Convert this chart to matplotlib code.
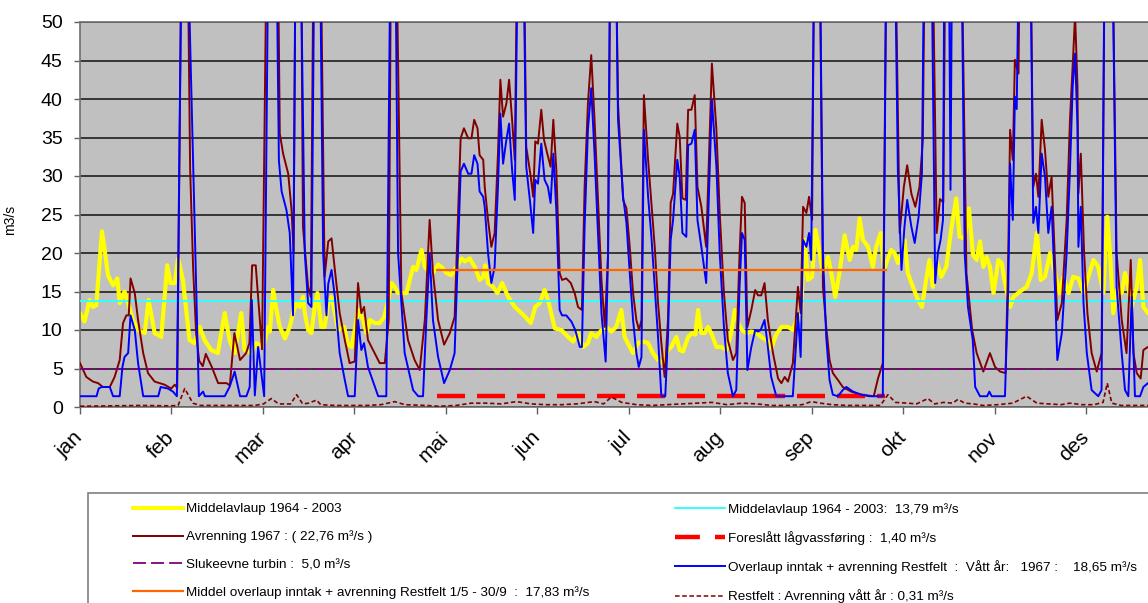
import numpy as np
import matplotlib
matplotlib.use("Agg")
import matplotlib.pyplot as plt
from matplotlib.lines import Line2D
from matplotlib.patches import Rectangle

plt.rcParams['font.family'] = ['Liberation Sans', 'DejaVu Sans']

# ---------------- data ----------------
months = ['jan', 'feb', 'mar', 'apr', 'mai', 'jun', 'jul', 'aug', 'sep', 'okt', 'nov', 'des']

# Middelavlaup 1964 - 2003 (daily mean flow)
mean_days = [0, 1.5, 3.2, 4.3, 5.4, 7.3, 8.2, 9.3, 11, 12.4, 13.2, 14.8, 16, 17.6, 19.3, 21.5, 22.8, 24.8, 27, 29,
             30.1, 31.5, 32.6, 34.2, 36.4, 38, 39.8, 41.4, 43.6, 45.8, 48.1, 49.7, 51.4, 53.6, 54.7, 56.9, 58.6,
             60.9, 62.5, 63.1, 64.2, 65.3, 66.4, 68.1, 69.7, 70.8, 71.9, 73, 74.1, 74.7, 75.8, 76.9, 78, 78.9, 80.2,
             81.3, 82.5, 83.6, 84.7, 85.8, 87.8, 88.9, 90.2, 91.3, 92.4, 94.1, 95.2, 96.3, 98, 99.6, 101.1, 102.2,
             103.5, 104.6, 105.7, 106.8, 108.5, 109.6, 110.7, 111.8, 113.5, 114.6, 116.2, 117.3,
             119, 120.1, 121.8, 123.4, 125.1, 126.8, 127.9, 129.5, 131.2, 132.8, 134, 134.7, 135.6, 137.3, 138.7,
             140.3, 142.3, 144.5, 146.7, 148, 149.8, 151.3, 152.8, 154.4, 155.8, 157.8, 160, 162.2, 163.9, 165.5,
             167.2, 168.8, 169.9, 171.6, 173.3, 174.9, 176.6, 178.2,
             179.9, 181, 182.7, 183.8, 185.4, 187.1, 188.8, 190.4, 192.1, 193.7, 195.4, 196.5, 198.2, 199.3, 200.4,
             202.1, 203.4, 204.5, 205.4, 206.5, 207.6, 208.7, 210, 211.5, 213.1, 214.8, 216.4, 217.6, 218.7, 220,
             221.4, 223.1, 224.8, 226.4, 228.1, 229.7, 231.4, 233.1, 235.3, 236.9, 238.6,
             239.5, 240.8, 241.9, 243.3, 244.4, 245.5, 246.9, 248.6, 249.7, 251, 252.4, 254.1, 255.8, 256.9, 258,
             259.1, 260.2, 261.9, 263.5, 264.6, 266.1, 267.2, 268.3, 269.6, 270.7, 271.8, 273.2, 274, 275.1, 276.8,
             278.5, 279.8, 281.2, 282.3, 283.4, 284.6, 286.2, 287.9, 289.5, 291.2, 292.3, 294, 295.4, 296.8, 298,
             299.1, 300.2, 301.3, 302.4, 303.6, 305.2, 306.3, 307.4, 309.1, 310.2, 312.4, 314.6, 316.3, 318, 319.3,
             320.7, 322.4, 324, 325.5, 326.8, 328.5, 330.1, 331.8, 333.5, 335.1, 336.8, 338.4, 340.1, 341.4, 342.3,
             343.4, 344.5, 346.2, 347.3, 348.4, 349.5, 351.2, 352.3, 353.4, 354.9, 356]
mean_vals = [12.2, 11.1, 13.9, 13.0, 13.2, 22.8, 20.4, 17.1, 15.8, 16.7, 13.5, 15.0, 13.5, 11.3, 10.0, 9.6, 13.9, 9.6, 9.1, 18.4,
             16.1, 16.1, 19.3, 16.5, 8.7, 8.3, 10.4, 8.7, 7.4, 7.0, 12.2, 8.7, 7.0, 12.2, 7.4, 7.0, 8.3,
             7.8, 10.4, 9.8, 15.2, 12.6, 10.4, 8.9, 10.4, 12.2, 13.5, 13.0, 14.3, 12.2, 10.0, 9.6, 13.0, 14.8, 10.4,
             10.4, 13.5, 14.3, 12.2, 10.0, 10.4, 8.3, 7.8, 10.0, 12.6, 11.3, 9.6, 11.3, 10.9, 10.9, 11.7, 13.5,
             16.1, 15.6, 14.8, 14.8, 14.8, 16.5, 18.2, 17.8, 20.4, 18.2, 17.4, 17.4,
             18.5, 18.2, 17.4, 17.1, 18.2, 19.3, 18.9, 19.3, 18.2, 16.5, 16.9, 18.4, 16.1, 15.6, 14.8,
             16.1, 14.3, 13.0, 12.2, 11.7, 10.9, 13.0, 13.5, 15.2, 13.5, 10.2, 10.0, 9.1, 8.5, 9.6,
             7.8, 8.3, 9.6, 9.1, 10.0, 10.4, 9.8, 10.4,
             12.6, 9.1, 7.8, 7.0, 8.3, 8.5, 8.3, 7.0, 6.1, 5.7, 7.4, 7.8, 9.1, 7.4, 7.2,
             9.1, 9.6, 9.4, 12.6, 9.6, 9.6, 10.4, 9.4, 7.8, 7.8, 7.4, 9.6, 12.6, 10.9, 10.0,
             9.6, 9.8, 9.6, 9.1, 8.7, 7.6, 9.4, 10.4, 10.4, 10.0, 11.8,
             11.3, 21.7, 16.5, 16.9, 23.0, 20.8, 17.4, 19.5, 17.4, 14.3, 17.4, 22.3, 19.1, 20.8, 20.4,
             24.5, 21.7, 20.8, 18.2, 20.8, 22.6, 17.8, 19.1, 20.4, 20.0, 18.7, 20.0, 21.7, 17.4, 15.6,
             13.9, 13.0, 16.5, 19.1, 15.6, 19.1, 16.9, 18.2, 23.0, 27.1, 22.1, 21.9, 25.8, 19.7, 19.1,
             21.5, 18.2, 19.5, 18.2, 14.8, 19.1, 18.7, 16.1, 13.0, 14.3, 15.0, 15.6, 17.4, 22.6, 16.5,
             16.9, 20.0, 17.4, 14.8, 16.9, 14.8, 16.9, 16.7, 14.8, 16.9, 19.1, 18.2, 14.8, 24.7, 20.0,
             12.2, 15.2, 14.8, 17.4, 15.6, 13.0, 15.6, 19.1, 13.0, 12.2, 12.0]

# Avrenning 1967
runoff_days = [0, 2.1, 4.3, 6, 7.6, 9.9, 11.5, 13.2, 14.3, 15.4, 16.2, 16.8, 18.2, 19.3, 21, 22.6, 24.8, 28.1, 30.3, 31.5,
               32.3, 34, 35.5, 36.6, 37.6, 38.6, 39.6, 40.8, 41.8, 43.8, 45.9, 48.7, 49.8, 51.3, 53.2, 55.2, 56.3, 57.2,
               58.4, 60.5, 62.3, 65.5, 66.4, 67.5, 69.2, 70.3, 71, 71.8, 73.3, 74.1, 75.8, 76.7, 77.8, 79.7, 81.3, 82.5,
               83.6, 84.7, 86.3, 88, 89.6, 91.3, 92.4, 93.5, 94.4, 95.7, 97.4, 99.6, 101.3, 102.6, 103.5, 104.8, 106.8,
               109, 111.2, 112.9, 114.6, 116.2, 117.3, 119, 121, 122.9, 124.5, 125.6, 126.5, 127.6, 129, 130.1, 131,
               132.1, 132.8, 134, 134.5, 135.6, 136.7, 137.8, 138.9, 139.7, 140.6, 141.7, 142.6, 143.6, 144.5, 145.6,
               147.2, 148.3, 149.8, 150.6, 151.3, 152.2, 153.3, 154.2, 155.3, 156.4, 157.3, 158.3, 159.4, 160.2, 161.6,
               163.1, 164.4, 165.5, 166.8, 167.7, 168.8, 169.9, 171, 172.2, 173.3, 174.4, 175.5, 176.3, 177.9, 178.8,
               180.5, 181.6, 182.7, 183.8, 184.9, 185.8, 186.6, 187.4, 188.8, 189.9, 191, 192.1, 193.2, 194.3, 195.4,
               196.3, 197.1, 198.5, 199.3, 200.2, 201.3, 202.1, 203.2, 204.3, 205.2, 206.5, 208.1, 210, 211.5, 212.6,
               214, 215.3, 217, 218.1, 219.2, 220, 220.9, 221.8, 223.1, 224.4, 225.3, 226.4, 227.5, 228.6, 230.3, 232,
               233.1, 234.2, 235.3, 236.9, 238.6, 239.5, 240.3, 241.4, 242.3, 243.3, 244.2, 245.6, 246.9, 248, 249.1,
               250.2, 251.9, 253.5, 256.3, 259.6, 263.8, 265.2, 266.8, 268.2, 270.6, 272.4, 273.8, 274.9, 276.3, 277.6,
               279, 280.1, 281, 283, 284.7, 285.8, 286.9, 287.8, 292.6, 294.6, 296.5, 298, 300.2, 302.4, 304.1, 305.8,
               307.6, 308.5, 309.1, 310, 310.7, 311.9, 312.6, 315.6, 316.8, 317.7, 318.5, 319.6, 320.7, 321.8, 322.9,
               324, 324.8, 326.3, 327.9, 329, 330.1, 330.7, 331.5, 331.8, 332.6, 333.7, 334.8, 336.2, 337.9, 339.5,
               340.7, 342.8, 344.5, 346.2, 347.8, 349.2, 350.1, 351.2, 352.5, 353.4, 354.9, 357]
runoff_vals = [5.7, 3.9, 3.3, 3.1, 2.6, 2.6, 3.9, 6.1, 10.9, 11.9, 11.9, 16.7, 14.8, 11.3, 7.0, 4.4, 3.3, 2.9, 2.4, 2.9,
               2.5, 70, 70, 31.0, 18.0, 9.5, 6.0, 5.3, 6.9, 5.2, 3.1, 3.1, 2.8, 9.6, 6.1, 7.0, 8.3, 18.4,
               18.4, 7.5, 70, 70, 35.5, 32.9, 30.3, 25.6, 20.0, 70, 70, 23.4, 15.6, 14.3, 70, 70, 16.9, 21.5,
               21.9, 17.8, 12.2, 8.7, 5.7, 5.9, 16.1, 12.2, 13.0, 8.7, 7.4, 5.7, 5.7, 11.3, 70, 70, 14.8,
               8.7, 6.1, 4.8, 11.3, 24.3, 17.4, 11.3, 8.1, 9.6, 11.7, 24.3, 34.9, 36.2, 34.9, 34.9, 37.3,
               36.2, 32.7, 32.1, 28.6, 24.3, 20.8, 22.6, 32.9, 42.5, 37.7, 39.4, 42.5, 37.3, 32.1, 70,
               70, 33.8, 29.9, 27.3, 34.5, 34.2, 38.6, 34.7, 32.9, 31.2, 37.3, 30.8, 17.4, 16.5, 16.7,
               16.1, 14.8, 13.0, 12.6, 28.6, 39.4, 45.7, 37.3, 26.5, 16.5, 10.4, 20.0, 65, 65, 39.4,
               26.9, 25.8, 20.8, 14.8, 11.3, 10.0, 11.3, 40.5, 32.1, 26.5, 20.8, 13.5, 8.3, 3.9, 11.3,
               26.5, 27.7, 36.8, 35.1, 27.1, 26.9, 38.6, 38.6, 40.5, 28.6, 26.0, 20.8, 44.6, 36.0, 25.2,
               14.8, 8.7, 6.1, 7.0, 20.0, 27.3, 26.5, 10.4, 12.6, 15.2, 14.5, 14.5, 16.1, 11.3, 7.0, 3.7,
               3.1, 3.9, 3.3, 5.7, 15.6, 12.2, 26.0, 25.2, 27.3, 24.3, 70, 70, 15.6, 10.4, 6.1,
               4.4, 3.5, 2.6, 2.0, 1.6, 1.4, 3.7, 5.7, 70, 70, 22.6, 28.6, 31.4, 27.7, 26.0,
               28.6, 34.7, 70, 70, 22.6, 27.0, 26.6, 70, 70, 17.4, 10.0, 7.0, 4.6, 7.0, 5.2, 4.6,
               4.4, 20.0, 36.0, 32.1, 45.1, 43.3, 70, 70, 28.6, 30.3, 27.3, 37.3, 33.4, 27.3, 29.9,
               19.1, 11.3, 13.5, 24.3, 37.3, 45.9, 51.0, 41.6, 27.7, 32.9, 20.0, 12.2, 7.0, 4.6, 7.0,
               70, 70, 20.0, 11.3, 7.0, 19.1, 7.0, 4.4, 3.7, 7.4, 7.8, 7.0]

# Overlaup inntak + avrenning Restfelt, vått år 1967
spill_days = [0, 5.5, 6.2, 7.2, 9.9, 11, 13.2, 14.1, 14.8, 16, 16.8, 18.2, 19.3, 21, 26, 26.8, 29.2, 30.9, 32.2, 34,
              35.5, 39.5, 40.9, 41.5, 48.1, 49.7, 51.4, 53.2, 55.3, 56.4, 57.1, 58.1, 59.2, 61.2, 62.8, 65, 66.1, 67,
              68.6, 69.7, 70.8, 71.8, 73, 74.7, 75.8, 76.9, 78.1, 79.5, 80.8, 81.9, 82.5, 83.6, 84.7, 86.3, 88, 89.1,
              91.3, 92.4, 93.5, 94.4, 95.7, 99.1, 101.8, 103.4, 104.6, 105.7, 107.9, 110.7, 112.4, 114, 115.1, 116.2,
              117.3, 119, 121, 122.9, 124.5, 125.6, 126.5, 127.6, 129, 130.1, 131, 132.1, 132.8, 134, 134.5, 135.6,
              136.7, 137.8, 138.9, 139.7, 140.6, 141.7, 142.6, 143.6, 144.5, 145.8, 147, 148.3, 149.5, 150.6, 151.3,
              152.2, 153.3, 154.4, 155.5, 156.4, 157.3, 158.3, 159.4, 160.2, 161.6, 163.3, 164.6, 166.1, 166.8, 167.7,
              168.8, 169.9, 171, 172.2, 173.3, 174.7, 175.5, 176.3, 177.9, 178.8, 180.5, 181.6, 182.7, 183.8, 184.9,
              185.7, 186.6, 187.4, 188.8, 189.9, 191, 192.1, 193.2, 194.5, 195.4, 196.3, 197.1, 198.5, 199.3, 200.2,
              201.5, 202.1, 203.2, 204.3, 205.2, 206.5, 208.1, 210, 211.5, 212.6, 214, 215.3, 217, 218.1, 219.2, 220,
              220.9, 221.8, 223.1, 224.4, 225.3, 226.2, 227.5, 228.6, 229.7, 231.4, 236.9, 238.6, 239.5, 240.3, 241.4,
              242.3, 243, 244.3, 245.6, 246.9, 248, 249.1, 250.2, 251.9, 253.5, 254.7, 256.9, 259.6, 262.4, 266.8,
              268.2, 270.5, 271.8, 273, 274, 274.9, 276.3, 277.4, 278.7, 279.8, 280.8, 282.7, 284.2, 285.1, 286,
              286.8, 287.4, 288.6, 289.3, 290, 292.7, 294, 295.1, 296.7, 297.5, 299.1, 301.5, 302.2, 303, 307.4,
              308.5, 309.1, 310, 310.7, 311.3, 312.4, 315.6, 316.8, 317.7, 318.5, 319.6, 320.7, 321.8, 322.9, 324,
              324.8, 326.3, 327.9, 329, 329.9, 330.7, 331.5, 331.8, 332.6, 333.5, 334.6, 336.2, 338.4, 339.5, 340.7,
              342.8, 344.5, 346.2, 347.3, 348.4, 349.5, 350.6, 352.3, 353.4, 354.9, 357]
spill_vals = [1.4, 1.4, 2.4, 2.6, 2.6, 1.4, 1.4, 5.2, 6.5, 7.0, 11.9, 10.0, 5.7, 1.4, 1.4, 2.6, 2.4, 2.0, 1.4, 70,
              65, 1.4, 2.0, 1.4, 1.4, 2.6, 4.6, 1.4, 1.4, 2.6, 13.9, 1.5, 7.8, 1.4, 70, 70, 32.0, 28.0,
              25.6, 22.6, 11.9, 70, 70, 20.0, 13.5, 13.0, 70, 70, 20.0, 11.9, 16.0, 17.8, 14.3, 7.0, 3.5, 1.4,
              1.4, 11.3, 7.4, 8.3, 5.2, 1.4, 1.4, 70, 70, 20.0, 7.0, 2.2, 1.4, 1.4, 11.3, 20.0,
              11.3, 6.5, 3.1, 4.8, 7.0, 20.0, 30.6, 31.6, 30.3, 30.3, 32.7, 31.6, 28.0, 27.3, 26.0, 20.0,
              16.1, 18.2, 28.6, 38.1, 31.6, 34.7, 36.8, 30.8, 26.9, 70, 70, 31.2, 26.9, 22.6, 29.5,
              29.0, 34.2, 29.5, 28.6, 26.5, 32.9, 25.6, 12.6, 11.9, 11.9, 11.1, 10.0, 7.8, 7.8, 23.4,
              36.0, 41.4, 32.9, 22.1, 12.2, 5.9, 20.0, 65, 65, 37.3, 27.3, 23.9, 17.4, 11.3, 7.0,
              5.2, 6.5, 36.0, 27.3, 22.1, 15.6, 9.1, 1.4, 1.4, 9.1, 21.7, 24.3, 32.1, 29.9, 22.6,
              22.1, 34.0, 34.2, 36.0, 24.3, 20.8, 16.1, 39.9, 31.2, 20.0, 10.4, 4.4, 1.4, 2.2, 15.6, 22.6,
              21.7, 4.8, 7.8, 10.0, 9.8, 10.0, 11.3, 7.8, 3.9, 1.4, 1.4, 12.2, 6.5, 21.7, 20.8,
              22.6, 19.1, 70, 70, 20.0, 9.1, 3.5, 1.6, 1.4, 2.2, 2.6, 2.0, 1.6, 1.4, 1.4,
              70, 70, 30.8, 17.8, 23.4, 26.9, 23.4, 21.3, 24.7, 30.3, 70, 70, 16.1, 20.0, 21.7,
              24.3, 70, 70, 28.2, 70, 70, 20.0, 13.0, 8.7, 2.6, 1.4, 1.4, 2.0, 1.4, 1.4,
              15.6, 31.6, 24.3, 40.3, 38.7, 70, 70, 23.9, 26.0, 22.6, 32.9, 29.9, 22.6, 26.0, 15.6,
              6.1, 9.6, 20.0, 30.8, 41.6, 45.9, 36.4, 20.8, 26.0, 13.5, 7.0, 2.2, 1.4, 2.2, 70,
              70, 15.6, 7.0, 2.2, 1.4, 14.3, 1.4, 1.4, 2.6, 3.1, 2.0]

# Restfelt: Avrenning vått år
rest_days = [0, 10, 20, 30, 32.6, 34.8, 37.5, 40, 50, 58, 61, 63.6, 66, 70, 72, 74, 76, 78.6, 80, 85, 90, 95, 100,
             104.6, 108, 115, 119, 125, 130, 135, 140, 145, 150, 155, 160, 165, 171, 174, 176.6, 180, 185, 190, 195,
             200, 205, 210, 215, 220, 225, 230, 235, 240, 243, 246, 250, 255, 262, 266, 268.5, 271, 275, 278, 281.8,
             284, 287, 290, 291.8, 294, 297, 300, 305, 310, 314.6, 318, 322, 326, 329, 333, 337, 340, 341.4, 342.9,
             346, 350, 357]
rest_vals = [0.1, 0.15, 0.2, 0.15, 0.2, 2.4, 0.5, 0.2, 0.2, 0.2, 0.4, 1.1, 0.4, 0.4, 1.6, 0.4, 0.5, 0.9, 0.3, 0.2, 0.2,
             0.2, 0.3, 0.7, 0.3, 0.2, 0.1, 0.2, 0.5, 0.5, 0.4, 0.7, 0.4, 0.3, 0.3, 0.4, 0.7, 0.4, 1.3, 0.6, 0.3, 0.2,
             0.3, 0.4, 0.5, 0.6, 0.3, 0.5, 0.4, 0.2, 0.2, 0.3, 0.7, 0.5, 0.3, 0.2, 0.2, 0.2, 1.6, 0.6, 0.5, 0.4, 1.1,
             0.4, 0.6, 0.5, 1.0, 0.5, 0.4, 0.2, 0.3, 0.5, 1.4, 0.5, 0.4, 0.3, 0.5, 0.3, 0.3, 0.6, 3.1, 0.5, 0.2, 0.2,
             0.2]

mean_level = 13.79          # Middelavlaup 1964 - 2003
turbine_level = 5.0         # Slukeevne turbin
spill_mean_level = 17.83    # Middel overlaup 1/5 - 30/9
spill_mean_span = [118.5, 268]
minflow_level = 1.40        # Foreslått lågvassføring
minflow_span = [118.5, 267.5]

labels = ['Middelavlaup 1964 - 2003',
          'Avrenning 1967 : ( 22,76 m³/s )',
          'Slukeevne turbin :  5,0 m³/s',
          'Middel overlaup inntak + avrenning Restfelt 1/5 - 30/9  :  17,83 m³/s',
          'Middelavlaup 1964 - 2003:  13,79 m³/s',
          'Foreslått lågvassføring :  1,40 m³/s',
          'Overlaup inntak + avrenning Restfelt  :  Vått år:   1967 :    18,65 m³/s',
          'Restfelt : Avrenning vått år : 0,31 m³/s']

# ---------------- styles ----------------
C_YEL = '#FFFF00'
C_CYAN = '#33FFFF'
C_DRED = '#800000'
C_RED = '#FF0000'
C_PURP = '#800080'
C_BLUE = '#0000FF'
C_ORNG = '#FF6600'

W, H = 1148, 603
fig = plt.figure(figsize=(W / 100, H / 100), dpi=100)
fig.patch.set_facecolor('white')
ax = fig.add_axes([80 / W, (H - 407) / H, (W - 80) / W, 385 / H])
ax.set_facecolor('#C0C0C0')
ax.set_xlim(0, (W - 80) / 3.009)
ax.set_ylim(0, 50)

ax.set_yticks(np.arange(0, 51, 5))
ax.yaxis.grid(True, color='#111111', lw=1.1)
ax.set_axisbelow(True)

month_pos = np.arange(12) * 30.4
ax.set_xticks(month_pos)
ax.set_xticklabels(months, rotation=45, ha='right', va='center', rotation_mode='anchor', fontsize=15)
ax.tick_params(axis='x', length=5, width=1, color='#606060', pad=15)
ax.tick_params(axis='y', length=4.5, width=1, color='#606060', pad=8, labelsize=14)

for s in ['left', 'bottom', 'top']:
    ax.spines[s].set_color('#707070')
    ax.spines[s].set_linewidth(1.2)
ax.spines['right'].set_visible(False)

ax.set_ylabel('m3/s', fontsize=10)
ax.yaxis.set_label_coords((17.5 - 80) / 1068, (407 - 220) / 385)

# ---------------- series ----------------
ax.plot(mean_days, mean_vals, color=C_YEL, lw=3.0, zorder=2, solid_joinstyle='round')
ax.axhline(mean_level, color=C_CYAN, lw=1.4, zorder=3)
ax.plot(runoff_days, runoff_vals, color=C_DRED, lw=1.4, zorder=4)
ax.plot(minflow_span, [minflow_level] * 2, color=C_RED, lw=3.2, dashes=(6.3, 2.7), zorder=5,
        solid_capstyle='butt', dash_capstyle='butt')
ax.axhline(turbine_level, color=C_PURP, lw=1.2, dashes=(7.2, 2.8), zorder=6)
ax.plot(spill_days, spill_vals, color=C_BLUE, lw=1.4, zorder=7)
ax.plot(spill_mean_span, [spill_mean_level] * 2, color=C_ORNG, lw=1.6, zorder=8)
ax.plot(rest_days, rest_vals, color=C_DRED, lw=1.2, dashes=(2.6, 1.6), zorder=9)

# ---------------- legend ----------------
h_left = [Line2D([], [], color=C_YEL, lw=2.9),
          Line2D([], [], color=C_DRED, lw=1.4),
          Line2D([], [], color=C_PURP, lw=1.3, dashes=(7.2, 2.8)),
          Line2D([], [], color=C_ORNG, lw=1.6)]
h_right = [Line2D([], [], color=C_CYAN, lw=1.4),
           Line2D([], [], color=C_RED, lw=3.2, dashes=(5.6, 3.4), dash_capstyle='butt'),
           Line2D([], [], color=C_BLUE, lw=1.4),
           Line2D([], [], color=C_DRED, lw=1.1, dashes=(3.0, 1.7))]

fs = 9.7
common = dict(frameon=False, fontsize=fs, handlelength=3.7, handletextpad=0.22, labelspacing=1.13,
              borderpad=0, borderaxespad=0, loc='upper left', bbox_transform=fig.transFigure)
leg1 = fig.legend(h_left, labels[:4], bbox_to_anchor=(133 / W, (H - 503) / H), **common)
leg2 = fig.legend(h_right, labels[4:], bbox_to_anchor=(675 / W, (H - 503) / H), **common)

fig.add_artist(Rectangle((88 / W, -0.05), 2.0, (H - 493) / H + 0.05, transform=fig.transFigure,
                         fill=False, edgecolor='#808080', lw=1.2))

fig.savefig('out.png', dpi=100)
